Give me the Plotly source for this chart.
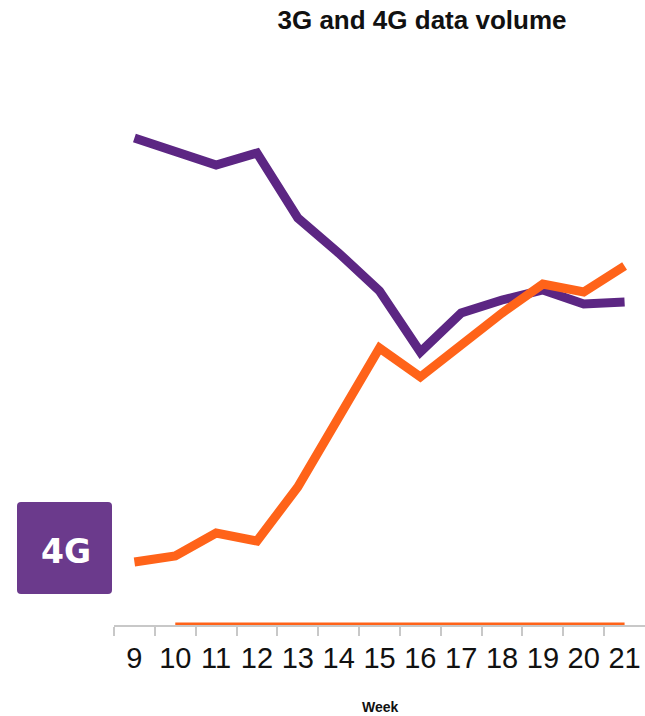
import plotly.graph_objects as go

# ---- data ----
weeks = [9, 10, 11, 12, 13, 14, 15, 16, 17, 18, 19, 20, 21]
volume_3g = [486, 473, 459, 471, 406, 371, 333, 272, 311, 324, 334, 320, 322]
volume_4g = [62, 68, 91, 83, 137, 206, 276, 247, 279, 311, 340, 332, 358]
baseline_weeks = [10, 21]
baseline_values = [0, 0]
tick_labels = [str(w) for w in weeks]

PURPLE = "#5c2683"
ORANGE = "#ff6319"
BOX = "#6b3a8c"
GRAY = "#c8c8c8"

W, H = 645, 716
ML, MR, MT, MB = 114, 0, 60, 91
PW, PH = W - ML - MR, H - MT - MB


def px_x(px):
    return (px - ML) / PW


def px_y(py):
    return (H - MB - py) / PH


fig = go.Figure()
fig.add_trace(go.Scatter(x=weeks, y=volume_3g, mode="lines",
                         line=dict(color=PURPLE, width=9), name="3G",
                         showlegend=False))
fig.add_trace(go.Scatter(x=weeks, y=volume_4g, mode="lines",
                         line=dict(color=ORANGE, width=9), name="4G",
                         showlegend=False))
fig.add_trace(go.Scatter(x=baseline_weeks, y=baseline_values, mode="lines",
                         line=dict(color=ORANGE, width=3), showlegend=False))

# rounded box for the "4G" badge
bx0, by0, bx1, by1, r = 17, 502, 112, 594, 4
rx, ry = r / PW, r / PH
X0, X1 = px_x(bx0), px_x(bx1)
Y0, Y1 = px_y(by1), px_y(by0)
path = (f"M {X0+rx},{Y0} L {X1-rx},{Y0} Q {X1},{Y0} {X1},{Y0+ry} "
        f"L {X1},{Y1-ry} Q {X1},{Y1} {X1-rx},{Y1} L {X0+rx},{Y1} "
        f"Q {X0},{Y1} {X0},{Y1-ry} L {X0},{Y0+ry} Q {X0},{Y0} {X0+rx},{Y0} Z")
fig.add_shape(type="path", path=path, xref="paper", yref="paper",
              fillcolor=BOX, line=dict(width=0), layer="above")

fig.add_annotation(text="<b>4G</b>", x=px_x(65.5), y=px_y(551),
                   xref="paper", yref="paper", showarrow=False,
                   xanchor="center", yanchor="middle",
                   font=dict(family="DejaVu Sans", size=33, color="white"))

fig.add_annotation(text="<b>Week</b>", x=px_x(380), y=px_y(707),
                   xref="paper", yref="paper", showarrow=False,
                   xanchor="center", yanchor="middle",
                   font=dict(family="Liberation Sans", size=14, color="#111"))

fig.update_layout(
    width=W, height=H,
    margin=dict(l=ML, r=MR, t=MT, b=MB),
    paper_bgcolor="white", plot_bgcolor="white",
    title=dict(text="<b>3G and 4G data volume</b>",
               x=422 / W, xref="container", xanchor="center",
               y=1 - 20 / H, yref="container", yanchor="middle",
               font=dict(family="Liberation Sans", size=26, color="#111")),
    xaxis=dict(range=[8.5, 21.5], tickmode="array", tickvals=weeks,
               ticktext=tick_labels, ticks="", showgrid=False,
               zeroline=False, showline=True, linecolor=GRAY, linewidth=1.5,
               layer="below traces", ticklabelstandoff=6,
               tickfont=dict(family="Liberation Sans", size=29, color="#111"),
               minor=dict(tickmode="array",
                          tickvals=[w - 0.5 for w in weeks],
                          ticks="outside", ticklen=9, tickwidth=1.5,
                          tickcolor=GRAY, showgrid=False)),
    yaxis=dict(range=[-1, 564], visible=False, showgrid=False, zeroline=False),
)

fig.write_html("out.html",
               config={"displayModeBar": False},
               post_script="document.body.style.margin='0';")
